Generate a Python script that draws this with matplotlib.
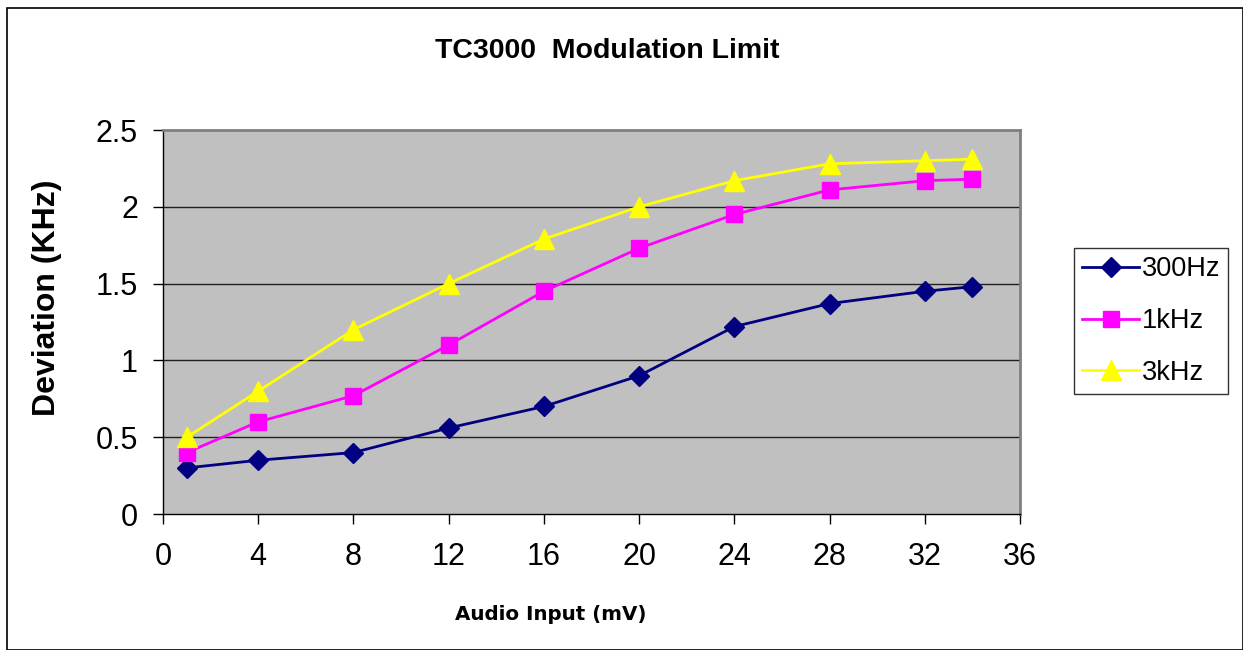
import matplotlib
matplotlib.use("Agg")
import matplotlib.pyplot as plt
from matplotlib.patches import Rectangle

x = [1, 4, 8, 12, 16, 20, 24, 28, 32, 34]
s300 = [0.30, 0.35, 0.40, 0.56, 0.70, 0.90, 1.22, 1.37, 1.45, 1.48]
s1k = [0.40, 0.60, 0.77, 1.10, 1.45, 1.73, 1.95, 2.11, 2.17, 2.18]
s3k = [0.50, 0.80, 1.20, 1.50, 1.79, 2.00, 2.17, 2.28, 2.30, 2.31]
labels = ["300Hz", "1kHz", "3kHz"]
xticks = [0, 4, 8, 12, 16, 20, 24, 28, 32, 36]
yticks = [0, 0.5, 1, 1.5, 2, 2.5]
yticklabels = ["0", "0.5", "1", "1.5", "2", "2.5"]

plt.rcParams['font.family'] = ['Liberation Sans', 'DejaVu Sans']

W, H = 1243, 650
fig = plt.figure(figsize=(W/100, H/100), dpi=100)
fig.patch.set_facecolor('white')

# outer chart border
fig.add_artist(Rectangle((7/W, 0), (W - 7)/W, 1 - 8/H, transform=fig.transFigure,
                         fill=False, edgecolor='black', linewidth=1.2))

L, R, T, B = 163, 1020, 130, 514
ax = fig.add_axes([L/W, 1 - B/H, (R - L)/W, (B - T)/H])
ax.set_facecolor('#C0C0C0')
ax.set_xlim(0, 36)
ax.set_ylim(0, 2.5)
for yv in yticks[1:-1]:
    ax.axhline(yv, color='#202020', linewidth=1.0, zorder=1)

ax.plot(x, s300, color='#000080', marker='D', markersize=10.5, linewidth=2, label=labels[0], zorder=3)
ax.plot(x, s1k, color='#FF00FF', marker='s', markersize=12, linewidth=2, label=labels[1], zorder=3)
ax.plot(x, s3k, color='#FFFF00', marker='^', markersize=14, linewidth=2, label=labels[2], zorder=3)

for side in ['top', 'right']:
    ax.spines[side].set_color('#808080')
    ax.spines[side].set_linewidth(2)
for side in ['left', 'bottom']:
    ax.spines[side].set_color('black')
    ax.spines[side].set_linewidth(1)

ax.set_xticks(xticks)
ax.set_xticklabels([str(v) for v in xticks])
ax.set_yticks(yticks)
ax.set_yticklabels(yticklabels)
ax.tick_params(axis='both', direction='out', length=7, width=1, labelsize=22, colors='black')
ax.tick_params(axis='x', pad=13)
ax.tick_params(axis='y', pad=11)

fig.text(607/W, 1 - 51/H, "TC3000  Modulation Limit", ha='center', va='center',
         fontsize=20.5, fontweight='bold')
fig.text(551/W, 1 - 615/H, "Audio Input (mV)", ha='center', va='center',
         fontsize=14.3, fontweight='bold', family=['DejaVu Sans'])
fig.text(47/W, 1 - 298/H, "Deviation (KHz)", ha='center', va='center',
         rotation=90, fontsize=23, fontweight='bold')

leg = ax.legend(loc='center left', bbox_to_anchor=(1074/W, 1 - 321/H), bbox_transform=fig.transFigure,
                fontsize=19.5, frameon=True, fancybox=False, edgecolor='black', handlelength=2.1,
                handletextpad=0.1, borderpad=0.3, labelspacing=0.95, borderaxespad=0)
leg.get_frame().set_linewidth(1)

fig.savefig("out.png", dpi=100)
